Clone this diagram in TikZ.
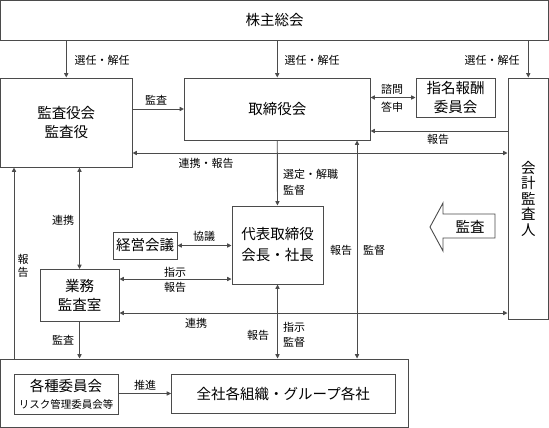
\documentclass[tikz,border=0pt]{standalone}
\usepackage{fontspec}
\setmainfont{Noto Sans CJK JP}
\usetikzlibrary{arrows.meta}
\definecolor{lc}{RGB}{75,75,75}
\tikzset{
  box/.style={draw=lc, line width=0.9pt, inner sep=0pt, align=center, font=\fontsize{14.5}{19}\selectfont},
  lbl/.style={inner sep=0pt, align=center, font=\fontsize{11}{15}\selectfont},
  tip/.tip={Triangle[length=4.5pt,width=4.2pt]},
  arr/.style={draw=lc, line width=0.9pt, -tip},
  darr/.style={draw=lc, line width=0.9pt, tip-tip},
}
\begin{document}
\begin{tikzpicture}[x=1pt,y=-1pt]
\useasboundingbox (0,0) rectangle (549,428);
% boxes
\node[box, minimum width=548pt, minimum height=40pt] (kabu) at (274.5,20.5) {株主総会};
\node[box, minimum width=131.5pt, minimum height=89pt] (kansa) at (66.25,122.5) {監査役会\\監査役};
\node[box, minimum width=185.5pt, minimum height=62pt] (tori) at (277.25,109) {取締役会};
\node[box, minimum width=79pt, minimum height=39pt] (shimei) at (455.5,97.5) {指名報酬\\委員会};
\node[box, minimum width=40.5pt, minimum height=241pt, font=\fontsize{14.5}{15.5}\selectfont] (kaikei) at (528.25,198.5) {会\\計\\監\\査\\人};
\node[box, minimum width=91pt, minimum height=78pt, font=\fontsize{14.5}{21}\selectfont] (daihyo) at (277.5,245) {代表取締役\\会長・社長};
\node[box, minimum width=64pt, minimum height=27pt] (keiei) at (145,245.5) {経営会議};
\node[box, minimum width=79pt, minimum height=52pt] (gyomu) at (79.5,295.5) {業務\\監査室};
\node[box, minimum width=407.5pt, minimum height=68.5pt] (bottom) at (204.25,393.25) {};
\node[box, minimum width=104pt, minimum height=40pt] (kakushu) at (66,394) {各種委員会\\[-2pt]{\fontsize{10.5}{12}\selectfont リスク管理委員会等}};
\node[box, minimum width=223.4pt, minimum height=39pt] (zensha) at (283.3,393.5) {全社各組織・グループ各社};
% block arrow
\draw[draw=lc, line width=0.9pt] (430,227) -- (443,203) -- (443,214) -- (495,214) -- (495,238) -- (443,238) -- (443,251) -- cycle;
\node[inner sep=0pt, font=\fontsize{14.5}{19}\selectfont] (kansaarrow) at (470,227) {監査};
% connectors
\draw[arr] (kansa.north |- kabu.south) -- (kansa.north);
\draw[arr] (tori.north |- kabu.south) -- (tori.north);
\draw[arr] (kaikei.north |- kabu.south) -- (kaikei.north);
\draw[arr] (kansa.east |- tori.west) -- (tori.west);
\draw[darr] (tori.east |- shimei.west) -- (shimei.west);
\draw[arr] (kaikei.west |- 0,131) -- (tori.east |- 0,131);
\draw[darr] (kansa.east |- 0,153) -- (kaikei.west |- 0,153);
\draw[arr] (tori.south) -- (daihyo.north);
\draw[darr] (keiei.east) -- (daihyo.west |- keiei.east);
\draw[darr] (gyomu.north |- kansa.south) -- (gyomu.north);
\draw[darr] (gyomu.east |- 0,279) -- (daihyo.west |- 0,279);
\draw[darr] (gyomu.east |- 0,313) -- (kaikei.west |- 0,313);
\draw[arr] (bottom.north -| 14,0) -- (kansa.south -| 14,0);
\draw[arr] (gyomu.south) -- (gyomu.south |- bottom.north);
\draw[darr] (daihyo.south) -- (daihyo.south |- bottom.north);
\draw[darr] (tori.south -| 357,0) -- (bottom.north -| 357,0);
\draw[arr] (kakushu.east |- zensha.west) -- (zensha.west);
% labels
\node[lbl] (l1) at (102,60) {選任・解任};
\node[lbl] (l2) at (312,60) {選任・解任};
\node[lbl] (l3) at (492,60) {選任・解任};
\node[lbl] (l4) at (156,100) {監査};
\node[lbl] (l5) at (392,89) {諮問};
\node[lbl] (l6) at (392,107) {答申};
\node[lbl] (l7) at (438,139) {報告};
\node[lbl] (l8) at (206,163) {連携・報告};
\node[lbl, anchor=west] (l9) at (283,174) {選定・解職};
\node[lbl, anchor=west] (l10) at (283,190) {監督};
\node[lbl] (l11) at (204,236) {協議};
\node[lbl] (l12) at (63,220) {連携};
\node[lbl] (l13) at (175,272) {指示};
\node[lbl] (l14) at (175,287) {報告};
\node[lbl] (l15) at (196,323) {連携};
\node[lbl, font=\fontsize{11}{13}\selectfont] (l16) at (23,265.5) {報\\告};
\node[lbl] (l17) at (63,340) {監査};
\node[lbl] (l18) at (258,335) {報告};
\node[lbl] (l19) at (294,327) {指示};
\node[lbl] (l20) at (294,342) {監督};
\node[lbl] (l21) at (341,250) {報告};
\node[lbl] (l22) at (374,250) {監督};
\node[lbl] (l23) at (145,385) {推進};
\end{tikzpicture}
\end{document}
